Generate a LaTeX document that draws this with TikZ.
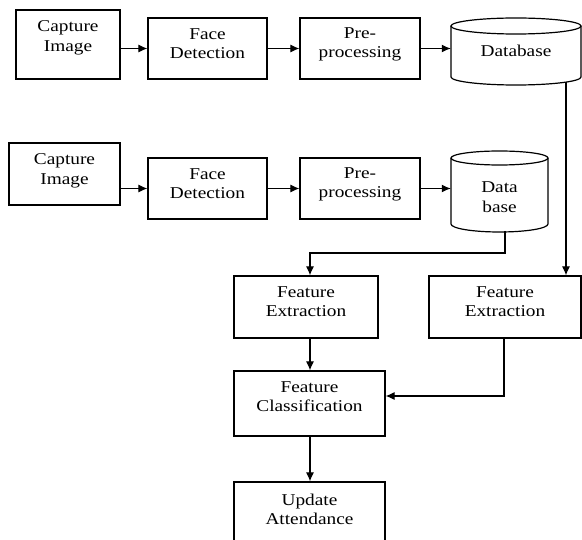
\documentclass[tikz,border=0pt]{standalone}
\usepackage{fontspec}
\setmainfont[FakeStretch=1.17]{Liberation Serif}
\usetikzlibrary{arrows.meta}
\begin{document}
\begin{tikzpicture}[x=1pt,y=-1pt,
  box/.style={draw, line width=1.2pt, inner sep=0pt, rectangle},
  lbl/.style={font=\fontsize{16.5}{19.5}\selectfont, align=center, inner sep=0pt},
  arr/.style={line width=1.1pt, -{Latex[length=9pt,width=8pt]}},
  cyl/.style={line width=1.2pt}]
\useasboundingbox (0,0) rectangle (582,540);

% ---- row 1 ----
\node[box, minimum width=104pt, minimum height=69pt] (c1) at (68,44.5) {};
\node[lbl, anchor=north] (c1t) at ([yshift=-11pt]c1.north) {Capture\\Image};
\node[box, minimum width=119pt, minimum height=61pt] (fd1) at (207.5,48.5) {};
\node[lbl, anchor=north] (fd1t) at ([yshift=-11pt]fd1.north) {Face\\Detection};
\node[box, minimum width=120pt, minimum height=61pt] (pp1) at (360,48.5) {};
\node[lbl, anchor=north] (pp1t) at ([yshift=-10pt]pp1.north) {Pre-\\processing};
% database cylinder 1
\draw[cyl] (516,26) ellipse [x radius=65pt, y radius=8pt];
\draw[cyl] (451,26) -- (451,77) arc[start angle=180, end angle=360, x radius=65pt, y radius=8pt] -- (581,26);
\node[lbl, minimum width=130pt, minimum height=67pt] (db1) at (516,51.5) {};
\node[lbl] (db1t) at (516,50.4) {Database};

% ---- row 2 ----
\node[box, minimum width=111pt, minimum height=62pt] (c2) at (64.5,174) {};
\node[lbl, anchor=north] (c2t) at ([yshift=-11pt]c2.north) {Capture\\Image};
\node[box, minimum width=119pt, minimum height=61pt] (fd2) at (207.5,188.5) {};
\node[lbl, anchor=north] (fd2t) at ([yshift=-11pt]fd2.north) {Face\\Detection};
\node[box, minimum width=120pt, minimum height=61pt] (pp2) at (360,188.5) {};
\node[lbl, anchor=north] (pp2t) at ([yshift=-10pt]pp2.north) {Pre-\\processing};
% database cylinder 2
\draw[cyl] (499.5,158) ellipse [x radius=48.5pt, y radius=7pt];
\draw[cyl] (451,158) -- (451,224) arc[start angle=180, end angle=360, x radius=48.5pt, y radius=8pt] -- (548,158);
\node[lbl, minimum width=97pt, minimum height=81pt] (db2) at (499.5,191.5) {};
\node[lbl] (db2t) at (499.5,197) {Data\\base};

% ---- lower part ----
\node[box, minimum width=144pt, minimum height=62pt] (fe1) at (306,307) {};
\node[lbl, anchor=north] (fe1t) at ([yshift=-11pt]fe1.north) {Feature\\Extraction};
\node[box, minimum width=152pt, minimum height=62pt] (fe2) at (505,307) {};
\node[lbl, anchor=north] (fe2t) at ([yshift=-11pt]fe2.north) {Feature\\Extraction};
\node[box, minimum width=151pt, minimum height=65pt] (fc) at (309.5,403.5) {};
\node[lbl, anchor=north] (fct) at ([yshift=-11pt]fc.north) {Feature\\Classification};
\node[box, minimum width=151pt, minimum height=66pt] (ua) at (309.5,515) {};
\node[lbl, anchor=north] (uat) at ([yshift=-12pt]ua.north) {Update\\Attendance};

% ---- connectors ----
\draw[arr] (c1.east |- fd1.west) -- (fd1.west);
\draw[arr] (fd1.east) -- (pp1.west);
\draw[arr] (pp1.east) -- (pp1.east -| db1.west);
\draw[arr] (c2.east |- fd2.west) -- (fd2.west);
\draw[arr] (fd2.east) -- (pp2.west);
\draw[arr] (pp2.east) -- (pp2.east -| db2.west);

\coordinate (d1s) at (566,82);
\draw[arr] (d1s) -- (d1s |- fe2.north);

\coordinate (d2s) at (505,231);
\coordinate (j1) at (310,253);
\draw[arr] (d2s) |- (j1) -- (j1 |- fe1.north);

\coordinate (vx) at (310,0);
\draw[arr] (fe1.south -| vx) -- (fc.north -| vx);
\draw[arr] (fc.south -| vx) -- (ua.north -| vx);

\coordinate (j2) at (504,396);
\draw[arr] (fe2.south -| j2) |- (fc.east |- j2);
\end{tikzpicture}
\end{document}
